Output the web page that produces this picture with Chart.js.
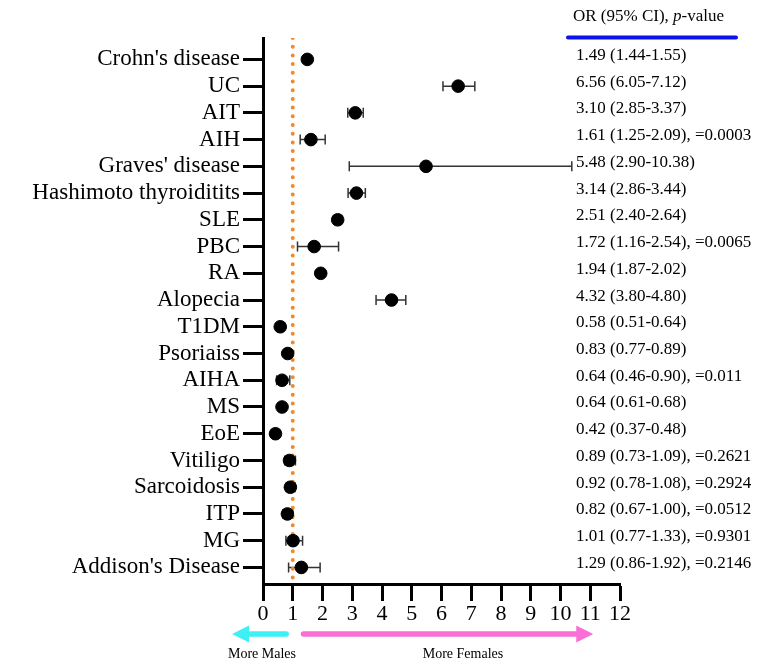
<!DOCTYPE html>
<html>
<head>
<meta charset="utf-8">
<script src="https://cdn.jsdelivr.net/npm/chart.js@4.4.1/dist/chart.umd.min.js"></script>
<style>
  html, body { margin: 0; padding: 0; background: #fff; }
  #wrap { width: 771px; height: 662px; }
</style>
</head>
<body>
<div id="wrap"><canvas id="forestChart"></canvas></div>
<script>
// forest plot: OR by sex for autoimmune diseases

const diseases = ["Crohn's disease", "UC", "AIT", "AIH", "Graves' disease", "Hashimoto thyroiditits",
  "SLE", "PBC", "RA", "Alopecia", "T1DM", "Psoriaiss", "AIHA", "MS", "EoE", "Vitiligo",
  "Sarcoidosis", "ITP", "MG", "Addison's Disease"];
const orValues = [1.49, 6.56, 3.10, 1.61, 5.48, 3.14, 2.51, 1.72, 1.94, 4.32, 0.58, 0.83, 0.64, 0.64, 0.42, 0.89, 0.92, 0.82, 1.01, 1.29];
const ciLow = [1.44, 6.05, 2.85, 1.25, 2.90, 2.86, 2.40, 1.16, 1.87, 3.80, 0.51, 0.77, 0.46, 0.61, 0.37, 0.73, 0.78, 0.67, 0.77, 0.86];
const ciHigh = [1.55, 7.12, 3.37, 2.09, 10.38, 3.44, 2.64, 2.54, 2.02, 4.80, 0.64, 0.89, 0.90, 0.68, 0.48, 1.09, 1.08, 1.00, 1.33, 1.92];
const pValues = ["", "", "", "0.0003", "", "", "", "0.0065", "", "", "", "", "0.011", "", "", "0.2621", "0.2924", "0.0512", "0.9301", "0.2146"];
const xTickLabels = ["0", "1", "2", "3", "4", "5", "6", "7", "8", "9", "10", "11", "12"];
const refValue = 1;

const SERIF = "'Liberation Serif', 'Times New Roman', serif";

function rowText(i) {
  let s = orValues[i].toFixed(2) + " (" + ciLow[i].toFixed(2) + "-" + ciHigh[i].toFixed(2) + ")";
  if (pValues[i]) s += ", =" + pValues[i];
  return s;
}

const errorBars = {
  id: "errorBars",
  beforeDatasetsDraw(chart) {
    const { ctx, scales: { x, y } } = chart;
    ctx.save();
    ctx.strokeStyle = "#333";
    ctx.lineWidth = 1.5;
    orValues.forEach((v, i) => {
      const py = y.getPixelForValue(i);
      const x1 = x.getPixelForValue(ciLow[i]);
      const x2 = x.getPixelForValue(ciHigh[i]);
      ctx.beginPath();
      ctx.moveTo(x1, py); ctx.lineTo(x2, py);
      ctx.moveTo(x1, py - 5); ctx.lineTo(x1, py + 5);
      ctx.moveTo(x2, py - 5); ctx.lineTo(x2, py + 5);
      ctx.stroke();
    });
    ctx.restore();
  }
};

const sideText = {
  id: "sideText",
  afterDraw(chart) {
    const { ctx, scales: { x, y } } = chart;
    ctx.save();
    ctx.fillStyle = "#000";
    ctx.textBaseline = "middle";
    ctx.font = "17px " + SERIF;
    orValues.forEach((v, i) => {
      ctx.fillText(rowText(i), 576, y.getPixelForValue(i) - 4);
    });

    // header
    let hx = 573;
    const parts = [["OR (95% CI), ", "17px "], ["p", "italic 17px "], ["-value", "17px "]];
    parts.forEach(([t, f]) => {
      ctx.font = f + SERIF;
      ctx.fillText(t, hx, 17);
      hx += ctx.measureText(t).width;
    });
    ctx.strokeStyle = "#0a14e6";
    ctx.lineWidth = 4;
    ctx.lineCap = "round";
    ctx.beginPath();
    ctx.moveTo(568, 37.5); ctx.lineTo(736, 37.5);
    ctx.stroke();

    // direction arrows
    const ay = 634;
    const drawArrow = (from, to, color) => {
      const dir = Math.sign(to - from);
      ctx.strokeStyle = color;
      ctx.fillStyle = color;
      ctx.lineWidth = 5.5;
      ctx.lineCap = "round";
      ctx.beginPath();
      ctx.moveTo(from, ay); ctx.lineTo(to - dir * 12, ay);
      ctx.stroke();
      ctx.beginPath();
      ctx.moveTo(to, ay);
      ctx.lineTo(to - dir * 17, ay - 8.5);
      ctx.lineTo(to - dir * 17, ay + 8.5);
      ctx.closePath();
      ctx.fill();
    };
    drawArrow(x.getPixelForValue(0.78), x.getPixelForValue(-1.04), "#3ef0f4");
    drawArrow(x.getPixelForValue(1.36), x.getPixelForValue(11.1), "#fa6fd6");

    ctx.fillStyle = "#000";
    ctx.font = "14px " + SERIF;
    ctx.textAlign = "center";
    ctx.fillText("More Males", 262, 654);
    ctx.fillText("More Females", 463, 654);
    ctx.restore();
  }
};

const ctx = document.getElementById("forestChart").getContext("2d");
new Chart(ctx, {
  data: {
    datasets: [
      {
        type: "scatter",
        data: orValues.map((v, i) => ({ x: v, y: i })),
        backgroundColor: "#000",
        borderColor: "#000",
        pointRadius: 6.3,
        pointHoverRadius: 6.3,
        order: 0
      },
      {
        type: "line",
        data: [{ x: refValue, y: -0.8 }, { x: refValue, y: 19.62 }],
        borderColor: "#f28a2a",
        borderWidth: 4,
        borderDash: [0, 8.7],
        borderCapStyle: "round",
        pointRadius: 0,
        fill: false,
        order: 1
      }
    ]
  },
  options: {
    responsive: true,
    maintainAspectRatio: false,
    animation: false,
    layout: { padding: { top: 38, right: 151, left: 0, bottom: 0 } },
    plugins: { legend: { display: false }, tooltip: { enabled: false } },
    scales: {
      x: {
        type: "linear",
        min: 0,
        max: 12,
        afterFit(scale) { scale.height = 78; },
        afterBuildTicks(scale) { scale.ticks = xTickLabels.map(t => ({ value: Number(t) })); },
        ticks: {
          callback: (v) => xTickLabels[v],
          color: "#000",
          font: { family: SERIF, size: 22 },
          padding: 0,
          maxRotation: 0,
          autoSkip: false
        },
        grid: { drawOnChartArea: false, drawTicks: true, tickLength: 17, tickWidth: 3, tickColor: "#000" },
        border: { display: true, width: 3, color: "#000" }
      },
      y: {
        type: "linear",
        min: -0.8,
        max: 19.62,
        reverse: true,
        afterFit(scale) { scale.width = 263; },
        afterBuildTicks(scale) { scale.ticks = diseases.map((d, i) => ({ value: i })); },
        ticks: {
          callback: (v) => diseases[v],
          color: "#000",
          font: { family: SERIF, size: 23 },
          padding: 3,
          autoSkip: false
        },
        grid: { drawOnChartArea: false, drawTicks: true, tickLength: 20, tickWidth: 3, tickColor: "#000" },
        border: { display: true, width: 3, color: "#000" }
      }
    }
  },
  plugins: [errorBars, sideText]
});
</script>
</body>
</html>
